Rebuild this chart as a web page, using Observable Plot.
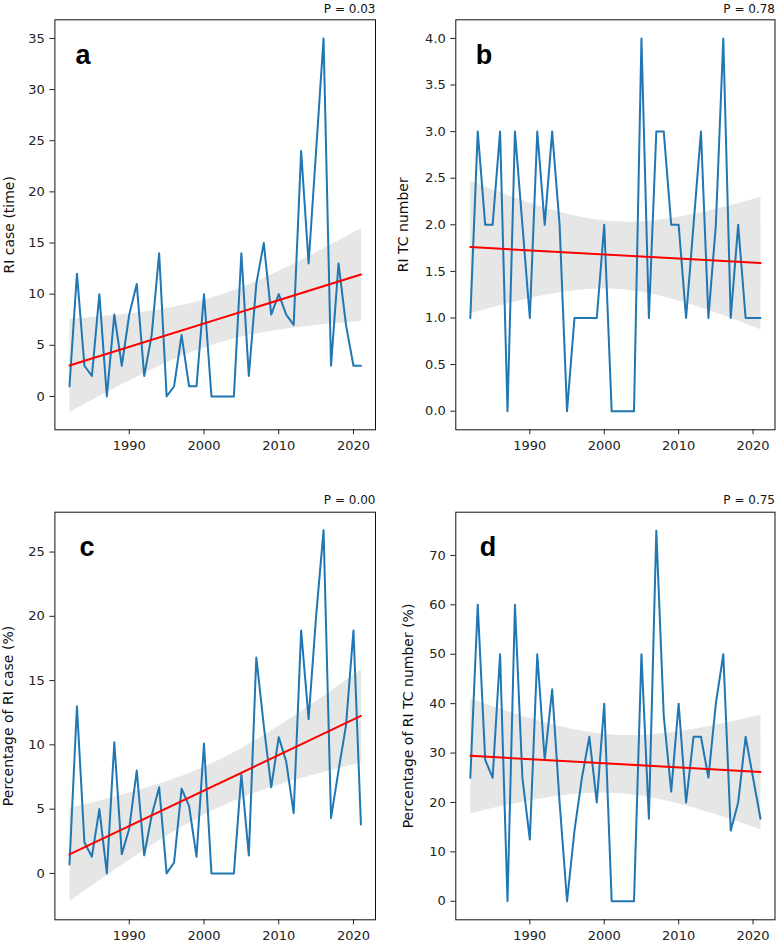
<!DOCTYPE html>
<html>
<head>
<meta charset="utf-8">
<script src="https://cdn.jsdelivr.net/npm/d3@7"></script>
<script src="https://cdn.jsdelivr.net/npm/@observablehq/plot@0.6"></script>
<style>
  body { margin: 0; background: #fff; }
  #fig { position: relative; width: 779px; height: 944px; background: #fff; overflow: hidden; }
  .panel { position: absolute; }
  .panel svg { overflow: visible; }
</style>
</head>
<body>
<div id="fig"></div>
<script>
// Years of record
const years = [1982, 1983, 1984, 1985, 1986, 1987, 1988, 1989, 1990, 1991,
               1992, 1993, 1994, 1995, 1996, 1997, 1998, 1999, 2000, 2001,
               2002, 2003, 2004, 2005, 2006, 2007, 2008, 2009, 2010, 2011,
               2012, 2013, 2014, 2015, 2016, 2017, 2018, 2019, 2020, 2021];

// (a) number of rapid-intensification cases per year
const riCase = [1, 12, 3, 2, 10, 0, 8, 3, 8, 11,
                2, 6, 14, 0, 1, 6, 1, 1, 10, 0,
                0, 0, 0, 14, 2, 11, 15, 8, 10, 8,
                7, 24, 13, 24, 35, 3, 13, 7, 3, 3];

// (b) number of TCs undergoing RI per year
const riTcNumber = [1, 3, 2, 2, 3, 0, 3, 2, 1, 3,
                    2, 3, 2, 0, 1, 1, 1, 1, 2, 0,
                    0, 0, 0, 4, 1, 3, 3, 2, 2, 1,
                    2, 3, 1, 2, 4, 1, 2, 1, 1, 1];

// (c) share of RI cases among all cases (%)
const pctRiCase = [0.7, 13.0, 2.4, 1.3, 5.0, 0, 10.2, 1.5, 3.5, 8.0,
                   1.4, 4.5, 6.7, 0, 0.85, 6.6, 5.25, 1.3, 10.1, 0,
                   0, 0, 0, 7.7, 1.4, 16.8, 11.5, 6.7, 10.6, 8.7,
                   4.7, 18.9, 12.0, 20.0, 26.7, 4.3, 8.0, 11.5, 18.9, 3.8];

// (d) share of TCs undergoing RI (%)
const pctRiTc = [25, 60, 28.6, 25, 50, 0, 60, 25, 12.5, 50,
                 28.6, 42.9, 20, 0, 14.3, 25, 33.3, 20, 40, 0,
                 0, 0, 0, 50, 16.7, 75, 37.5, 22.2, 40, 20,
                 33.3, 33.3, 25, 40, 50, 14.3, 20, 33.3, 25, 16.7];

const xTicks = [1990, 2000, 2010, 2020];
const panelLetters = ["a", "b", "c", "d"];
const pValues = ["P = 0.03", "P = 0.78", "P = 0.00", "P = 0.75"];
const yLabels = ["RI case (time)", "RI TC number", "Percentage of RI case (%)", "Percentage of RI TC number (%)"];
const yTicksA = [0, 5, 10, 15, 20, 25, 30, 35];
const yTicksB = [0, 0.5, 1, 1.5, 2, 2.5, 3, 3.5, 4];
const yTicksC = [0, 5, 10, 15, 20, 25];
const yTicksD = [0, 10, 20, 30, 40, 50, 60, 70];

const FONT = "DejaVu Sans, sans-serif";
const fig = document.getElementById("fig");

function drawPanel(cfg) {
  const data = years.map((year, i) => ({year, value: cfg.values[i]}));
  const chart = Plot.plot({
    width: cfg.width,
    height: cfg.height,
    marginLeft: cfg.ml,
    marginRight: cfg.mr,
    marginTop: cfg.mt,
    marginBottom: cfg.mb,
    style: {fontFamily: FONT, fontSize: "13px", color: "#222", background: "transparent"},
    x: {domain: [1980.05, 2022.95]},
    y: {domain: cfg.yDomain},
    marks: [
      // confidence band of the linear fit
      Plot.linearRegressionY(data, {x: "year", y: "value", ci: 0.95, fill: "#808080", fillOpacity: 0.2, stroke: "red", strokeOpacity: 0}),
      // yearly series
      Plot.line(data, {x: "year", y: "value", stroke: "#1f77b4", strokeWidth: 2}),
      // fitted trend line
      Plot.linearRegressionY(data, {x: "year", y: "value", ci: 0, stroke: "red", strokeWidth: 2}),
      Plot.axisX(xTicks, {tickFormat: "d", tickSize: 5, tickPadding: 6, fontSize: 13, fontFamily: FONT, label: null}),
      Plot.axisY(cfg.yTicks, {tickFormat: cfg.yFormat, tickSize: 5, tickPadding: 5, fontSize: 13, fontFamily: FONT, label: null}),
      Plot.frame({stroke: "#111", strokeWidth: 1}),
      // rotated y-axis title
      Plot.text([cfg.yLabel], {frameAnchor: "left", rotate: -90, dx: -cfg.labelOffset, textAnchor: "middle", lineAnchor: "top",
        fontSize: 14, fontFamily: FONT, fill: "#111"}),
      Plot.text([cfg.letter], {frameAnchor: "top-left", dx: cfg.letterDx, dy: cfg.letterDy, textAnchor: "start", lineAnchor: "bottom",
        fontFamily: "Liberation Sans, Arial, sans-serif", fontWeight: "bold", fontSize: 27, fill: "#000"}),
      Plot.text([cfg.p], {frameAnchor: "top-right", dy: cfg.pDy, textAnchor: "end", lineAnchor: "bottom", fontSize: 12, fontFamily: FONT, fill: "#111"})
    ]
  });
  const div = document.createElement("div");
  div.className = "panel";
  div.style.left = cfg.left + "px";
  div.style.top = cfg.top + "px";
  div.appendChild(chart);
  fig.appendChild(div);
}

drawPanel({left: 0, top: 0, width: 390, height: 470, ml: 54.4, mr: 15, mt: 19.3, mb: 40.7,
  values: riCase, yDomain: [-3.26, 36.82], yTicks: yTicksA, yFormat: "d", yLabel: yLabels[0], labelOffset: 51,
  letter: panelLetters[0], letterDx: 20.5, letterDy: 44, p: pValues[0], pDy: -6.6});

drawPanel({left: 389, top: 0, width: 390, height: 470, ml: 66.3, mr: 4.5, mt: 19.3, mb: 40.7,
  values: riTcNumber, yDomain: [-0.2, 4.2], yTicks: yTicksB, yFormat: ".1f", yLabel: yLabels[1], labelOffset: 58,
  letter: panelLetters[1], letterDx: 20, letterDy: 44, p: pValues[1], pDy: -6.6});

drawPanel({left: 0, top: 470, width: 390, height: 474, ml: 54.4, mr: 15, mt: 41.7, mb: 24.7,
  values: pctRiCase, yDomain: [-3.61, 28.1], yTicks: yTicksC, yFormat: "d", yLabel: yLabels[2], labelOffset: 52,
  letter: panelLetters[2], letterDx: 24.5, letterDy: 43.3, p: pValues[2], pDy: -8.4});

drawPanel({left: 389, top: 470, width: 390, height: 474, ml: 66.3, mr: 4.5, mt: 41.7, mb: 24.7,
  values: pctRiTc, yDomain: [-3.75, 78.75], yTicks: yTicksD, yFormat: "d", yLabel: yLabels[3], labelOffset: 53,
  letter: panelLetters[3], letterDx: 24, letterDy: 43.3, p: pValues[3], pDy: -8.4});
</script>
</body>
</html>
